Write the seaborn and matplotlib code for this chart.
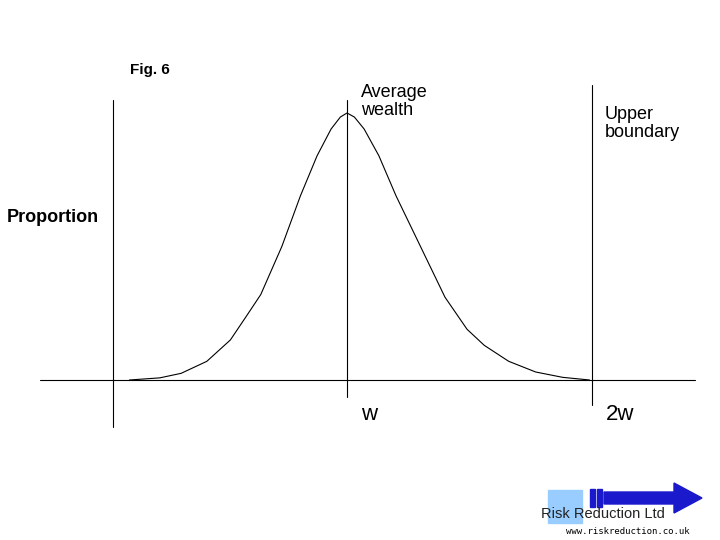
import matplotlib
matplotlib.use("Agg")
import matplotlib.pyplot as plt
import seaborn as sns
from matplotlib.patches import Rectangle, FancyArrow

sns.set_style("white")
plt.rcParams['font.family'] = ['Liberation Sans', 'DejaVu Sans']
plt.rcParams['text.color'] = 'black'

# curve (x in units of w, y as proportion of peak)
curve_x = [0.112, 0.236, 0.323, 0.428, 0.524, 0.59, 0.648, 0.734, 0.81, 0.878, 0.935, 0.973, 1.0,
           1.03, 1.07, 1.13, 1.2, 1.30, 1.40, 1.49, 1.56, 1.66, 1.77, 1.88, 1.99]
curve_y = [0.0, 0.008, 0.025, 0.07, 0.15, 0.24, 0.32, 0.50, 0.69, 0.84, 0.94, 0.985, 1.0,
           0.985, 0.94, 0.84, 0.69, 0.50, 0.31, 0.19, 0.13, 0.07, 0.03, 0.01, 0.0]
tick_labels = ["w", "2w"]
tick_pos = [1.0, 2.0]

W = 245.0  # pixels per w
X0 = 102.0
fig = plt.figure(figsize=(7.2, 5.4), dpi=100)
ax = fig.add_axes([0, 0, 1, 1])
ax.set_xlim(-X0 / W, (720 - X0) / W)
ax.set_ylim(-160 / 267, 380 / 267)
ax.axis("off")

sns.lineplot(x=curve_x, y=curve_y, ax=ax, color="black", lw=0.8)
k = 1 / 267
ax.plot([-0.253, 2.42], [0, 0], color="black", lw=0.8)
ax.plot([0.045, 0.045], [(380 - 100) * k, (380 - 427) * k], color="black", lw=0.8)
ax.plot([1, 1], [(380 - 100) * k, (380 - 397) * k], color="black", lw=0.8)
ax.plot([2, 2], [(380 - 85) * k, (380 - 405) * k], color="black", lw=0.8)

T = fig.transFigure
def px(x, y): return (x / 720, 1 - y / 540)
fig.text(*px(130, 70), "Fig. 6", fontsize=11, fontweight="bold", va="center")
fig.text(*px(361, 84), "Average\nwealth", fontsize=13, va="top", linespacing=1.05)
fig.text(*px(605, 106), "Upper\nboundary", fontsize=13, va="top", linespacing=1.05)
fig.text(*px(7, 218), "Proportion", fontsize=13, fontweight="bold", va="center")
for p, lab in zip(tick_pos, tick_labels):
    fig.text(*px(X0 + W * p + 14, 415), lab, fontsize=16, va="center")

# logo
fig.patches.append(Rectangle(px(548, 523), 34 / 720, 33 / 540, transform=T, color="#99ccff"))
for xb in (590, 597):
    fig.patches.append(Rectangle(px(xb, 507), 5 / 720, 18 / 540, transform=T, color="#1a1acc"))
fig.patches.append(FancyArrow(604 / 720, 1 - 498 / 540, 70 / 720, 0, width=12 / 540, head_width=30 / 540,
                              head_length=28 / 720, transform=T, color="#1a1acc"))
fig.text(*px(541, 514), "Risk Reduction Ltd", fontsize=10.5, va="center", color="#222222")
fig.text(*px(566, 531), "www.riskreduction.co.uk", fontsize=6.5, va="center", family="DejaVu Sans Mono")

fig.savefig("out.png", dpi=100)
